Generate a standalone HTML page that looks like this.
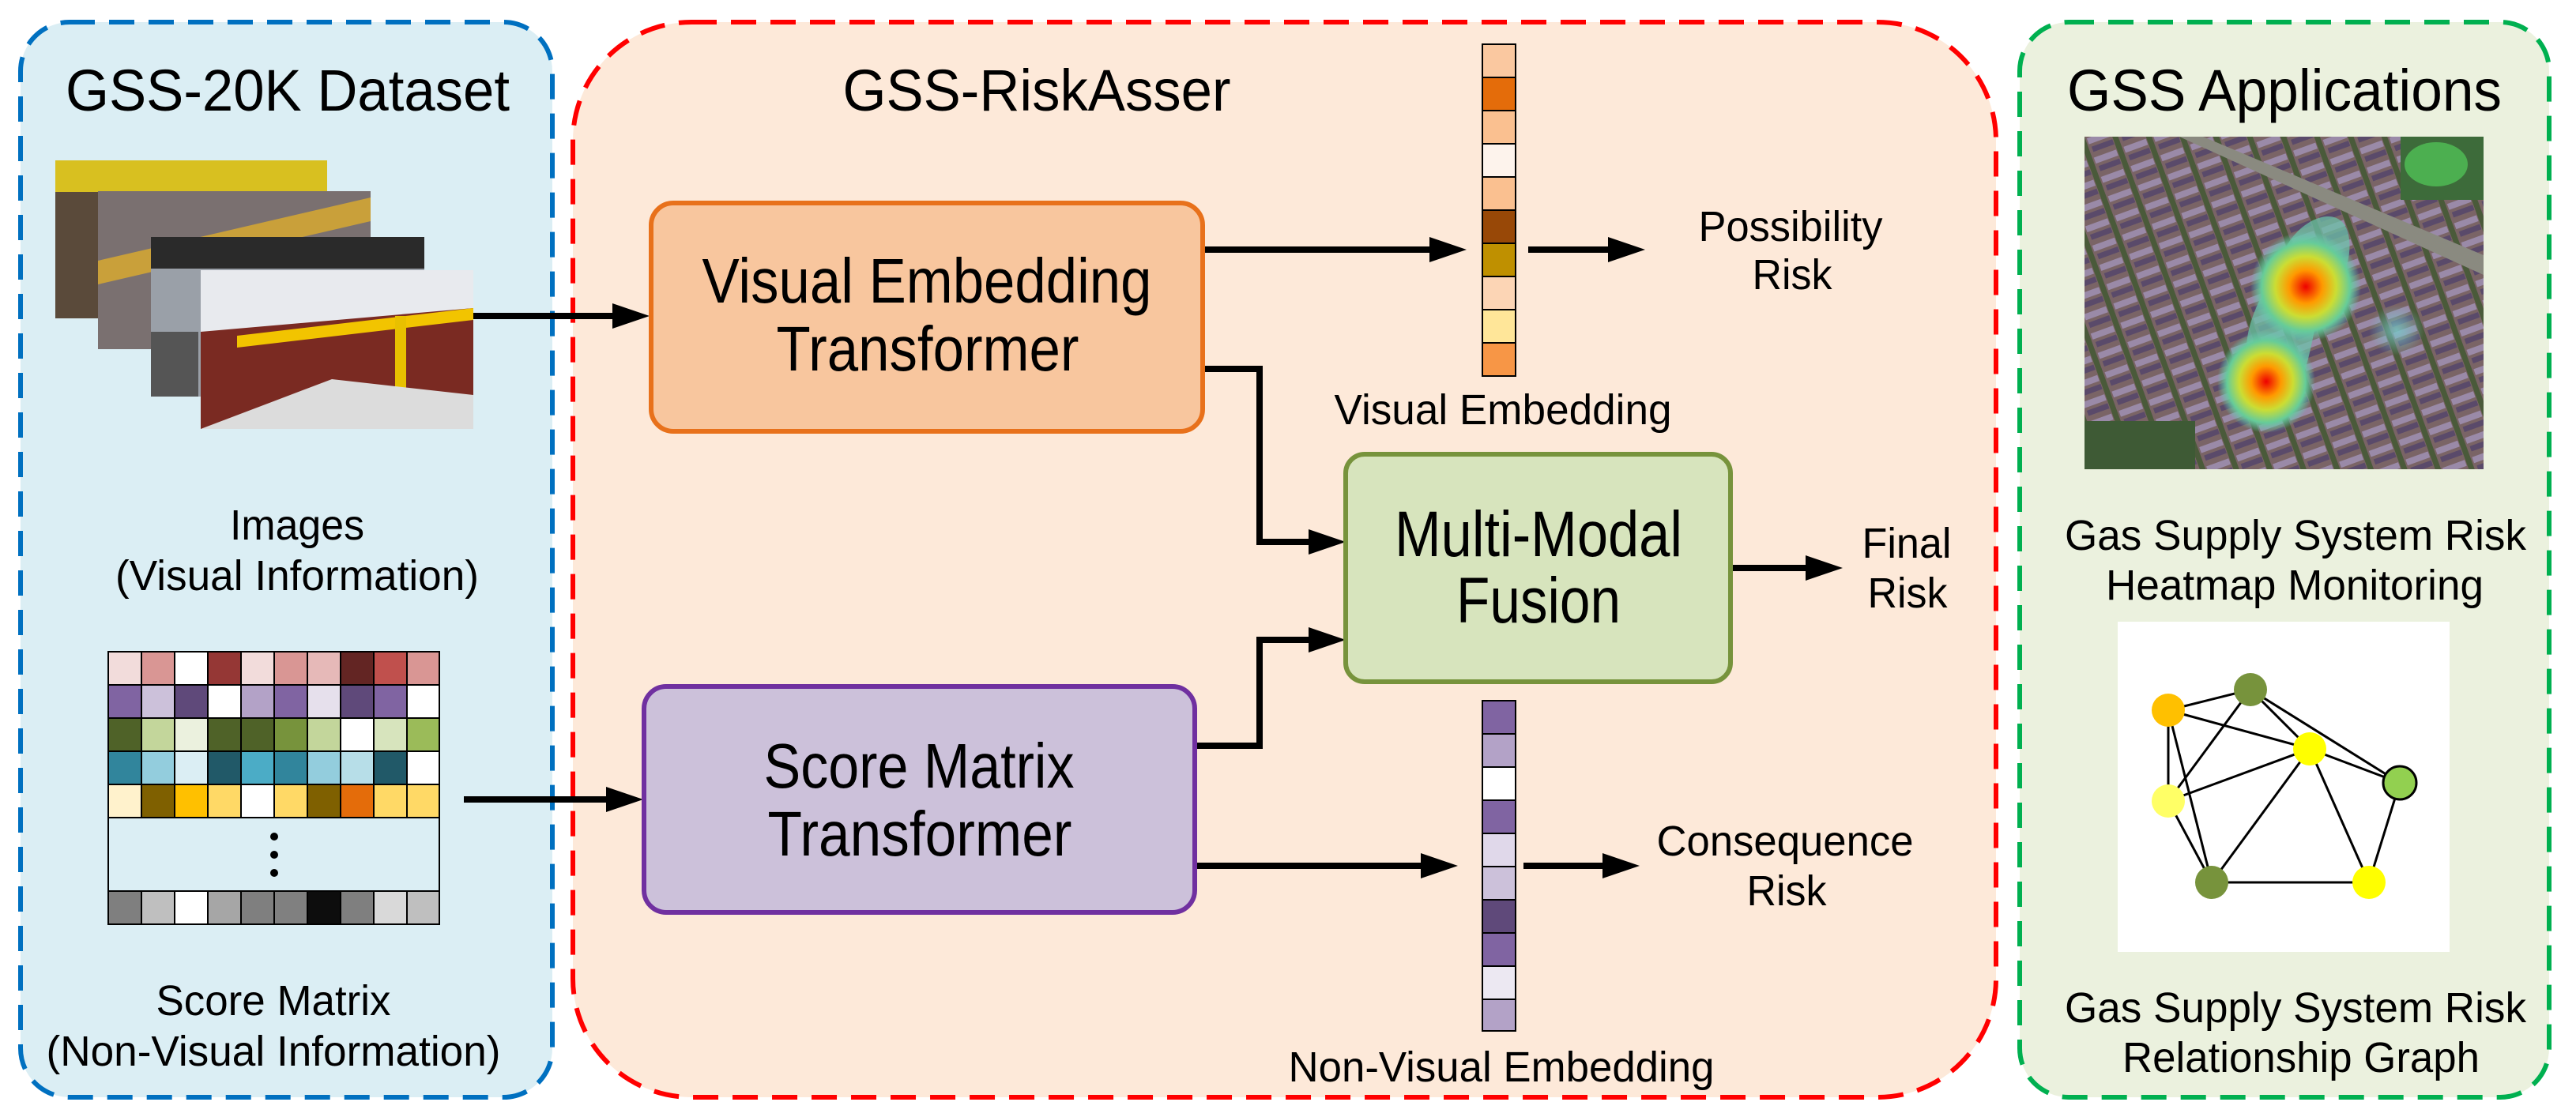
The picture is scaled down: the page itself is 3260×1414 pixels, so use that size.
<!DOCTYPE html>
<html><head><meta charset="utf-8"><style>html,body{margin:0;padding:0;background:#fff}svg{display:block}text{font-family:"Liberation Sans",Arial,sans-serif;fill:#000}</style></head>
<body>
<svg width="3260" height="1414" viewBox="0 0 3260 1414" xmlns="http://www.w3.org/2000/svg">
<defs>
<radialGradient id="hot" cx="50%" cy="50%" r="50%"><stop offset="0" stop-color="#e00"/><stop offset="0.3" stop-color="#f90"/><stop offset="0.55" stop-color="#cd3"/><stop offset="0.8" stop-color="#6c9"/><stop offset="1" stop-color="#6cb" stop-opacity="0"/></radialGradient>
<radialGradient id="cyan" cx="50%" cy="50%" r="50%"><stop offset="0" stop-color="#7cc" stop-opacity="0.8"/><stop offset="1" stop-color="#7cc" stop-opacity="0"/></radialGradient>
<pattern id="city" width="40" height="26" patternUnits="userSpaceOnUse" patternTransform="rotate(-20)"><rect width="40" height="26" fill="#7a6466"/><rect x="2" y="3" width="30" height="8" fill="#9a8aa8"/><rect x="4" y="15" width="28" height="7" fill="#5a4a6a"/><rect x="33" y="0" width="7" height="26" fill="#4a5a3a"/></pattern>
</defs>

<rect x="26" y="28" width="673" height="1361" rx="62" fill="#dbeef4" stroke="#0070c0" stroke-width="6" stroke-dasharray="32 18"/>
<rect x="725" y="28" width="1801" height="1361" rx="150" fill="#fde9d9" stroke="#ff0000" stroke-width="6" stroke-dasharray="32 18"/>
<rect x="2556" y="28" width="670" height="1361" rx="62" fill="#ebf1de" stroke="#00b050" stroke-width="6" stroke-dasharray="32 18"/>

<text x="364" y="140" font-size="74" text-anchor="middle" textLength="562" lengthAdjust="spacingAndGlyphs">GSS-20K Dataset</text>
<text x="1312" y="140" font-size="74" text-anchor="middle" textLength="491" lengthAdjust="spacingAndGlyphs">GSS-RiskAsser</text>
<text x="2891" y="140" font-size="74" text-anchor="middle" textLength="550" lengthAdjust="spacingAndGlyphs">GSS Applications</text>

<g>
<rect x="70" y="203" width="344" height="200" fill="#5a4a3a"/><rect x="70" y="203" width="344" height="40" fill="#d8c020"/>
<rect x="124" y="242" width="345" height="200" fill="#7a7070"/><polygon points="124,330 469,250 469,280 124,360" fill="#c9a03a"/>
<rect x="191" y="300" width="346" height="202" fill="#9aa0a8"/><rect x="191" y="300" width="346" height="40" fill="#2a2a2a"/><rect x="191" y="420" width="60" height="82" fill="#555"/>
<rect x="254" y="342" width="345" height="201" fill="#e8eaee"/><polygon points="254,420 599,390 599,543 254,543" fill="#7a2a22"/><polygon points="300,425 599,390 599,405 300,440" fill="#f2c400"/><rect x="500" y="400" width="14" height="120" fill="#e8c000"/><polygon points="254,543 420,480 599,500 599,543" fill="#dcdcdc"/>
</g>
<text x="376" y="683" font-size="54" text-anchor="middle" textLength="170" lengthAdjust="spacingAndGlyphs">Images</text>
<text x="376" y="747" font-size="54" text-anchor="middle" textLength="460" lengthAdjust="spacingAndGlyphs">(Visual Information)</text>

<g stroke="#000" stroke-width="2">
<rect x="137" y="825" width="42" height="42" fill="#f2dcdb"/><rect x="179" y="825" width="42" height="42" fill="#d99694"/><rect x="221" y="825" width="42" height="42" fill="#fff"/><rect x="263" y="825" width="42" height="42" fill="#953735"/><rect x="305" y="825" width="42" height="42" fill="#f2dcdb"/><rect x="347" y="825" width="42" height="42" fill="#d99694"/><rect x="389" y="825" width="42" height="42" fill="#e6b9b8"/><rect x="431" y="825" width="42" height="42" fill="#632523"/><rect x="473" y="825" width="42" height="42" fill="#c0504d"/><rect x="515" y="825" width="41" height="42" fill="#d99694"/>
<rect x="137" y="867" width="42" height="42" fill="#8064a2"/><rect x="179" y="867" width="42" height="42" fill="#ccc1da"/><rect x="221" y="867" width="42" height="42" fill="#5f497a"/><rect x="263" y="867" width="42" height="42" fill="#fff"/><rect x="305" y="867" width="42" height="42" fill="#b3a2c7"/><rect x="347" y="867" width="42" height="42" fill="#8064a2"/><rect x="389" y="867" width="42" height="42" fill="#e6e0ec"/><rect x="431" y="867" width="42" height="42" fill="#5f497a"/><rect x="473" y="867" width="42" height="42" fill="#8064a2"/><rect x="515" y="867" width="41" height="42" fill="#fff"/>
<rect x="137" y="909" width="42" height="42" fill="#4f6228"/><rect x="179" y="909" width="42" height="42" fill="#c3d69b"/><rect x="221" y="909" width="42" height="42" fill="#ebf1de"/><rect x="263" y="909" width="42" height="42" fill="#4f6228"/><rect x="305" y="909" width="42" height="42" fill="#4f6228"/><rect x="347" y="909" width="42" height="42" fill="#77933c"/><rect x="389" y="909" width="42" height="42" fill="#c3d69b"/><rect x="431" y="909" width="42" height="42" fill="#fff"/><rect x="473" y="909" width="42" height="42" fill="#d7e4bd"/><rect x="515" y="909" width="41" height="42" fill="#9bbb59"/>
<rect x="137" y="951" width="42" height="42" fill="#31859c"/><rect x="179" y="951" width="42" height="42" fill="#93cddd"/><rect x="221" y="951" width="42" height="42" fill="#dbeef4"/><rect x="263" y="951" width="42" height="42" fill="#215968"/><rect x="305" y="951" width="42" height="42" fill="#4bacc6"/><rect x="347" y="951" width="42" height="42" fill="#31859c"/><rect x="389" y="951" width="42" height="42" fill="#93cddd"/><rect x="431" y="951" width="42" height="42" fill="#b7dee8"/><rect x="473" y="951" width="42" height="42" fill="#215968"/><rect x="515" y="951" width="41" height="42" fill="#fff"/>
<rect x="137" y="993" width="42" height="42" fill="#fff2cc"/><rect x="179" y="993" width="42" height="42" fill="#7f6000"/><rect x="221" y="993" width="42" height="42" fill="#ffc000"/><rect x="263" y="993" width="42" height="42" fill="#ffd966"/><rect x="305" y="993" width="42" height="42" fill="#fff"/><rect x="347" y="993" width="42" height="42" fill="#ffd966"/><rect x="389" y="993" width="42" height="42" fill="#7f6000"/><rect x="431" y="993" width="42" height="42" fill="#e46c0a"/><rect x="473" y="993" width="42" height="42" fill="#ffd966"/><rect x="515" y="993" width="41" height="42" fill="#ffd966"/>
<rect x="137" y="1035" width="419" height="93" fill="#dbeef4"/>
<rect x="137" y="1128" width="42" height="42" fill="#7f7f7f"/><rect x="179" y="1128" width="42" height="42" fill="#bfbfbf"/><rect x="221" y="1128" width="42" height="42" fill="#fff"/><rect x="263" y="1128" width="42" height="42" fill="#a6a6a6"/><rect x="305" y="1128" width="42" height="42" fill="#7f7f7f"/><rect x="347" y="1128" width="42" height="42" fill="#808080"/><rect x="389" y="1128" width="42" height="42" fill="#0d0d0d"/><rect x="431" y="1128" width="42" height="42" fill="#7f7f7f"/><rect x="473" y="1128" width="42" height="42" fill="#d9d9d9"/><rect x="515" y="1128" width="41" height="42" fill="#bfbfbf"/>
</g>
<circle cx="347" cy="1059" r="5"/><circle cx="347" cy="1082" r="5"/><circle cx="347" cy="1105" r="5"/>
<text x="346" y="1285" font-size="54" text-anchor="middle" textLength="297" lengthAdjust="spacingAndGlyphs">Score Matrix</text>
<text x="346" y="1349" font-size="54" text-anchor="middle" textLength="575" lengthAdjust="spacingAndGlyphs">(Non-Visual Information)</text>

<!-- connector lines -->
<g stroke="#000" stroke-width="8" fill="none">
<path d="M599,400 L780,400"/>
<path d="M587,1012 L772,1012"/>
<path d="M1522,316 L1814,316"/>
<path d="M1934,316 L2040,316"/>
<path d="M1522,467 L1594,467 L1594,686 L1660,686"/>
<path d="M1512,944 L1594,944 L1594,810 L1660,810"/>
<path d="M1512,1096 L1803,1096"/>
<path d="M1928,1096 L2033,1096"/>
<path d="M2190,719 L2290,719"/>
</g>
<!-- arrowheads -->
<g fill="#000">
<polygon points="775,384 822,400 775,416"/>
<polygon points="767,996 814,1012 767,1028"/>
<polygon points="1809,300 1856,316 1809,332"/>
<polygon points="2035,300 2082,316 2035,332"/>
<polygon points="1656,670 1703,686 1656,702"/>
<polygon points="1656,794 1703,810 1656,826"/>
<polygon points="1798,1080 1845,1096 1798,1112"/>
<polygon points="2028,1080 2075,1096 2028,1112"/>
<polygon points="2285,703 2332,719 2285,735"/>
</g>

<rect x="824" y="257" width="698" height="289" rx="28" fill="#f8c69e" stroke="#e8711b" stroke-width="6"/>
<text x="1173" y="383" font-size="80" text-anchor="middle" textLength="569" lengthAdjust="spacingAndGlyphs">Visual Embedding</text>
<text x="1174" y="469" font-size="80" text-anchor="middle" textLength="383" lengthAdjust="spacingAndGlyphs">Transformer</text>

<rect x="815" y="869" width="697" height="286" rx="28" fill="#ccc1da" stroke="#7030a0" stroke-width="6"/>
<text x="1163" y="997" font-size="80" text-anchor="middle" textLength="393" lengthAdjust="spacingAndGlyphs">Score Matrix</text>
<text x="1164" y="1083" font-size="80" text-anchor="middle" textLength="385" lengthAdjust="spacingAndGlyphs">Transformer</text>

<rect x="1703" y="575" width="487" height="288" rx="24" fill="#d7e4bd" stroke="#77933c" stroke-width="6"/>
<text x="1947" y="704" font-size="82" text-anchor="middle" textLength="364" lengthAdjust="spacingAndGlyphs">Multi-Modal</text>
<text x="1947" y="788" font-size="82" text-anchor="middle" textLength="208" lengthAdjust="spacingAndGlyphs">Fusion</text>

<g stroke="#000" stroke-width="2">
<rect x="1876" y="56" width="42" height="42" fill="#fac8a0"/><rect x="1876" y="98" width="42" height="42" fill="#e46c0a"/><rect x="1876" y="140" width="42" height="42" fill="#fac090"/><rect x="1876" y="182" width="42" height="42" fill="#fdf3ec"/><rect x="1876" y="224" width="42" height="42" fill="#fac090"/><rect x="1876" y="266" width="42" height="42" fill="#984807"/><rect x="1876" y="308" width="42" height="42" fill="#bf9000"/><rect x="1876" y="350" width="42" height="42" fill="#fcd5b5"/><rect x="1876" y="392" width="42" height="42" fill="#ffe699"/><rect x="1876" y="434" width="42" height="42" fill="#f79646"/>
<rect x="1876" y="887" width="42" height="42" fill="#8064a2"/><rect x="1876" y="929" width="42" height="42" fill="#b3a2c7"/><rect x="1876" y="971" width="42" height="42" fill="#fff"/><rect x="1876" y="1013" width="42" height="42" fill="#8064a2"/><rect x="1876" y="1055" width="42" height="42" fill="#e0d8ea"/><rect x="1876" y="1097" width="42" height="42" fill="#ccc1da"/><rect x="1876" y="1139" width="42" height="42" fill="#5f497a"/><rect x="1876" y="1181" width="42" height="42" fill="#8064a2"/><rect x="1876" y="1223" width="42" height="42" fill="#ece8f2"/><rect x="1876" y="1265" width="42" height="40" fill="#b3a2c7"/>
</g>

<text x="2266" y="305" font-size="54" text-anchor="middle" textLength="233" lengthAdjust="spacingAndGlyphs">Possibility</text>
<text x="2268" y="366" font-size="54" text-anchor="middle" textLength="101" lengthAdjust="spacingAndGlyphs">Risk</text>
<text x="1902" y="537" font-size="54" text-anchor="middle" textLength="427" lengthAdjust="spacingAndGlyphs">Visual Embedding</text>
<text x="2413" y="706" font-size="54" text-anchor="middle" textLength="113" lengthAdjust="spacingAndGlyphs">Final</text>
<text x="2414" y="769" font-size="54" text-anchor="middle" textLength="101" lengthAdjust="spacingAndGlyphs">Risk</text>
<text x="2259" y="1083" font-size="54" text-anchor="middle" textLength="325" lengthAdjust="spacingAndGlyphs">Consequence</text>
<text x="2261" y="1146" font-size="54" text-anchor="middle" textLength="101" lengthAdjust="spacingAndGlyphs">Risk</text>
<text x="1900" y="1369" font-size="54" text-anchor="middle" textLength="539" lengthAdjust="spacingAndGlyphs">Non-Visual Embedding</text>

<svg x="2638" y="173" width="505" height="421" viewBox="0 0 505 421">
<rect width="505" height="421" fill="url(#city)"/>
<polygon points="150,0 505,150 505,175 120,0" fill="#8a8a80"/>
<rect x="400" y="0" width="105" height="80" fill="#3d6b3a"/><ellipse cx="445" cy="35" rx="40" ry="28" fill="#4caf50"/>
<rect x="0" y="360" width="140" height="61" fill="#3e5a35"/>
<ellipse cx="395" cy="245" rx="35" ry="32" fill="url(#cyan)"/>
<path d="M220,330 C180,250 230,200 250,150 C270,100 330,80 335,130 C340,180 300,210 290,250 C280,300 260,380 220,330 z" fill="#6cc0a8" opacity="0.75"/>
<ellipse cx="280" cy="190" rx="70" ry="70" fill="url(#hot)"/>
<ellipse cx="230" cy="310" rx="62" ry="65" fill="url(#hot)"/>
</svg>
<text x="2905" y="696" font-size="54" text-anchor="middle" textLength="584" lengthAdjust="spacingAndGlyphs">Gas Supply System Risk</text>
<text x="2904" y="759" font-size="54" text-anchor="middle" textLength="478" lengthAdjust="spacingAndGlyphs">Heatmap Monitoring</text>

<rect x="2680" y="787" width="420" height="418" fill="#fff"/>
<g stroke="#000" stroke-width="3">
<line x1="2744" y1="899" x2="2848" y2="873"/><line x1="2744" y1="899" x2="2923" y2="948"/><line x1="2744" y1="899" x2="2744" y2="1014"/><line x1="2744" y1="899" x2="2799" y2="1117"/>
<line x1="2848" y1="873" x2="2923" y2="948"/><line x1="2848" y1="873" x2="3037" y2="991"/><line x1="2848" y1="873" x2="2744" y2="1014"/>
<line x1="2923" y1="948" x2="2744" y2="1014"/><line x1="2923" y1="948" x2="2799" y2="1117"/><line x1="2923" y1="948" x2="2998" y2="1117"/><line x1="2923" y1="948" x2="3037" y2="991"/>
<line x1="3037" y1="991" x2="2998" y2="1117"/><line x1="2744" y1="1014" x2="2799" y2="1117"/><line x1="2799" y1="1117" x2="2998" y2="1117"/>
</g>
<circle cx="2744" cy="899" r="21" fill="#ffc000"/><circle cx="2848" cy="873" r="21" fill="#77933c"/><circle cx="2923" cy="948" r="21" fill="#ffff00"/><circle cx="3037" cy="991" r="21" fill="#92d050" stroke="#000" stroke-width="3"/><circle cx="2744" cy="1014" r="21" fill="#ffff66"/><circle cx="2799" cy="1117" r="21" fill="#77933c"/><circle cx="2998" cy="1117" r="21" fill="#ffff00"/>
<text x="2905" y="1294" font-size="54" text-anchor="middle" textLength="584" lengthAdjust="spacingAndGlyphs">Gas Supply System Risk</text>
<text x="2912" y="1357" font-size="54" text-anchor="middle" textLength="452" lengthAdjust="spacingAndGlyphs">Relationship Graph</text>
</svg>
</body></html>
